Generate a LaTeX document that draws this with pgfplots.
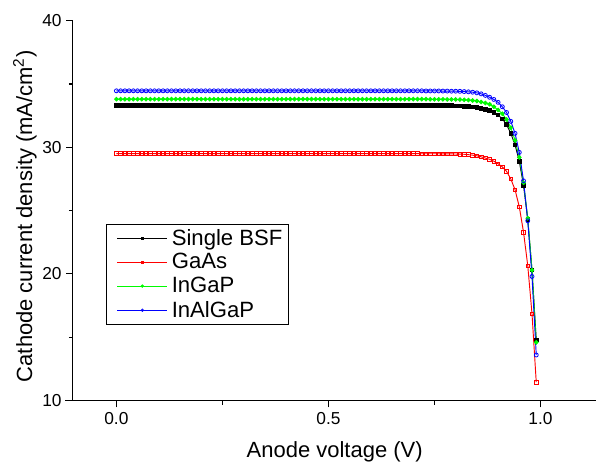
\documentclass[border=0pt]{standalone}
\usepackage{fontspec}
\setmainfont{Liberation Sans}
\usepackage{pgfplots}
\usepackage{pgfplotstable}
\pgfplotsset{compat=1.18}

% V  single BSF  GaAs  InGaP  InAlGaP
\pgfplotstableread{
V bsf gaas ingap inalgap
0.00 33.30 29.50 33.80 34.46
0.01 33.30 29.50 33.80 34.46
0.02 33.30 29.50 33.80 34.46
0.03 33.30 29.50 33.80 34.46
0.04 33.30 29.50 33.80 34.46
0.05 33.30 29.50 33.80 34.46
0.06 33.30 29.50 33.80 34.46
0.07 33.30 29.50 33.80 34.46
0.08 33.30 29.50 33.80 34.46
0.09 33.30 29.50 33.80 34.46
0.10 33.30 29.50 33.80 34.46
0.11 33.30 29.50 33.80 34.46
0.12 33.30 29.50 33.80 34.46
0.13 33.30 29.50 33.80 34.46
0.14 33.30 29.50 33.80 34.46
0.15 33.30 29.50 33.80 34.46
0.16 33.30 29.50 33.80 34.46
0.17 33.30 29.50 33.80 34.46
0.18 33.30 29.50 33.80 34.46
0.19 33.30 29.50 33.80 34.46
0.20 33.30 29.50 33.80 34.46
0.21 33.30 29.50 33.80 34.46
0.22 33.30 29.50 33.80 34.46
0.23 33.30 29.50 33.80 34.46
0.24 33.30 29.50 33.80 34.46
0.25 33.30 29.50 33.80 34.46
0.26 33.30 29.50 33.80 34.46
0.27 33.30 29.50 33.80 34.46
0.28 33.30 29.50 33.80 34.46
0.29 33.30 29.50 33.80 34.46
0.30 33.30 29.50 33.80 34.46
0.31 33.30 29.50 33.80 34.46
0.32 33.30 29.50 33.80 34.46
0.33 33.30 29.50 33.80 34.46
0.34 33.30 29.50 33.80 34.46
0.35 33.30 29.50 33.80 34.46
0.36 33.30 29.50 33.80 34.46
0.37 33.30 29.50 33.80 34.46
0.38 33.30 29.50 33.80 34.46
0.39 33.30 29.50 33.80 34.46
0.40 33.30 29.50 33.80 34.46
0.41 33.30 29.50 33.80 34.46
0.42 33.30 29.50 33.80 34.46
0.43 33.30 29.50 33.80 34.46
0.44 33.30 29.50 33.80 34.46
0.45 33.30 29.50 33.80 34.46
0.46 33.30 29.50 33.80 34.46
0.47 33.30 29.50 33.80 34.46
0.48 33.30 29.50 33.80 34.46
0.49 33.30 29.50 33.80 34.46
0.50 33.30 29.50 33.80 34.46
0.51 33.30 29.50 33.80 34.46
0.52 33.30 29.50 33.80 34.46
0.53 33.30 29.50 33.80 34.46
0.54 33.30 29.50 33.80 34.46
0.55 33.30 29.50 33.80 34.46
0.56 33.30 29.50 33.80 34.46
0.57 33.30 29.50 33.80 34.46
0.58 33.30 29.50 33.80 34.46
0.59 33.30 29.50 33.80 34.46
0.60 33.30 29.50 33.80 34.46
0.61 33.30 29.50 33.80 34.46
0.62 33.30 29.50 33.80 34.46
0.63 33.30 29.50 33.80 34.46
0.64 33.30 29.50 33.80 34.46
0.65 33.30 29.50 33.80 34.46
0.66 33.30 29.50 33.80 34.46
0.67 33.30 29.50 33.80 34.46
0.68 33.30 29.50 33.80 34.46
0.69 33.30 29.50 33.80 34.46
0.70 33.30 29.50 33.80 34.46
0.71 33.30 29.50 33.80 34.46
0.72 33.30 29.49 33.80 34.46
0.73 33.30 29.49 33.80 34.45
0.74 33.29 29.49 33.79 34.45
0.75 33.29 29.49 33.79 34.45
0.76 33.29 29.49 33.79 34.45
0.77 33.29 29.48 33.79 34.44
0.78 33.28 29.48 33.78 34.44
0.79 33.28 29.48 33.78 34.43
0.80 33.27 29.47 33.78 34.43
0.81 33.26 29.46 33.77 34.42
0.82 33.24 29.45 33.75 34.40
0.83 33.22 29.42 33.73 34.38
0.84 33.20 29.38 33.70 34.35
0.85 33.15 29.33 33.65 34.30
0.86 33.08 29.25 33.58 34.22
0.87 33.00 29.15 33.50 34.10
0.88 32.90 29.05 33.40 33.95
0.89 32.75 28.90 33.20 33.78
0.90 32.55 28.70 32.95 33.55
0.91 32.25 28.45 32.65 33.20
0.92 31.80 28.10 32.20 32.75
0.93 31.10 27.50 31.55 32.05
0.94 30.20 26.65 30.55 31.10
0.95 28.90 25.30 29.20 29.60
0.96 27.00 23.30 27.20 27.35
0.97 24.30 20.65 24.40 24.20
0.98 20.30 16.85 20.30 19.80
0.99 14.80 11.45 14.60 13.60
}\ivdata

\definecolor{pgreen}{RGB}{0,250,0}

\begin{document}
\begin{tikzpicture}
\begin{axis}[
    scale only axis,
    width=393pt, height=285.2pt,
    xmin=-0.1025, xmax=1.132,
    ymin=10, ymax=40,
    axis x line*=bottom, axis y line*=left,
    axis line style={-, line width=0.8pt},
    clip=false,
    tick align=outside,
    major tick length=5pt, minor tick length=3pt,
    tick style={line width=0.8pt, black},
    xtick={0,0.5,1}, minor xtick={0.25,0.75},
    ytick={10,20,30,40}, minor ytick={15,25,35},
    xticklabel style={/pgf/number format/.cd, fixed, fixed zerofill, precision=1},
    /pgf/number format/assume math mode=true,
    tick label style={font=\fontsize{13}{15}\selectfont},
    label style={font=\fontsize{16.5}{19}\selectfont},
    xlabel={Anode voltage (V)},
    ylabel={Cathode current density (mA/cm\textsuperscript{2})},
    xlabel style={at={(axis description cs:0.5,-0.134)}, anchor=center},
    ylabel style={at={(axis description cs:-0.0916,0.485)}, anchor=center, rotate=0},
    legend cell align=left,
    legend style={at={(axis description cs:0.0624,0.4646)}, anchor=north west,
        inner xsep=2.5pt, inner ysep=1.5pt, row sep=0.8pt, line width=0.6pt,
        font=\fontsize{16.6}{20}\selectfont},
    legend image code/.code={\path (0pt,0pt) (44.2pt,0pt);
        \draw[mark repeat=2,mark phase=2,#1,line width=0.6pt,mark size=0.9pt]
            plot coordinates {(5.7pt,0pt) (24.45pt,0pt) (43.2pt,0pt)};},
]
\addplot[color=black, line width=0.7pt, mark=square*, mark size=1.35pt] table[x=V, y=bsf] {\ivdata};
\addlegendentry{Single BSF}
\addplot[color=red, line width=0.7pt, mark=square, mark size=1.35pt, mark options={line width=0.6pt}] table[x=V, y=gaas] {\ivdata};
\addlegendentry{GaAs}
\addplot[color=pgreen, line width=0.7pt, mark=*, mark size=1.35pt] table[x=V, y=ingap] {\ivdata};
\addlegendentry{InGaP}
\addplot[color=blue, line width=0.7pt, mark=o, mark size=1.5pt, mark options={line width=0.6pt}] table[x=V, y=inalgap] {\ivdata};
\addlegendentry{InAlGaP}
\draw[line width=0.8pt] (axis cs:-0.121,10) -- (axis cs:-0.1025,10);
\path (axis description cs:-0.1393,-0.1604) rectangle (axis description cs:1,1.0544);
\end{axis}
\end{tikzpicture}
\end{document}
